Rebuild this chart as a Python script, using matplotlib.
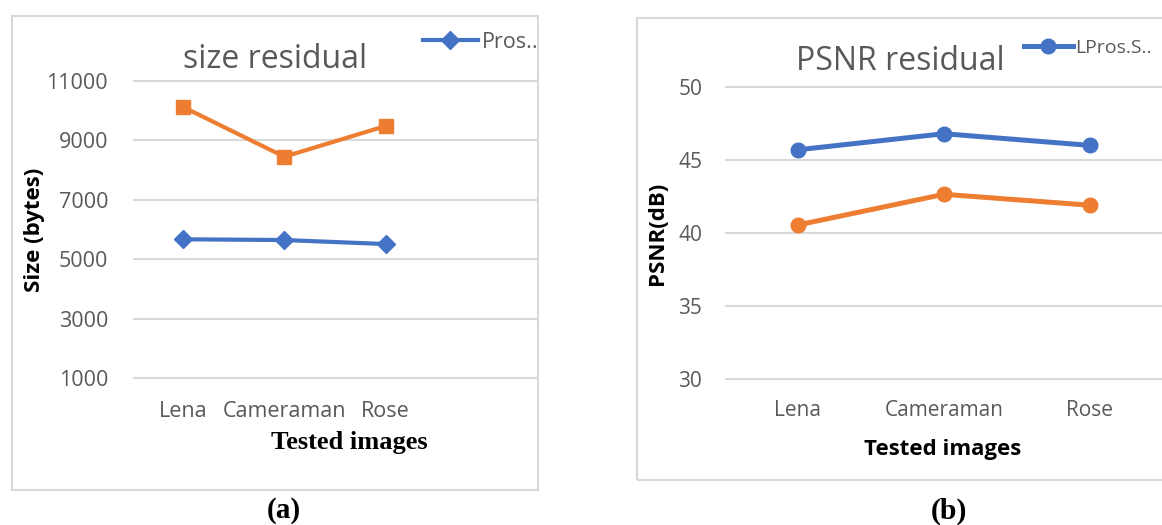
import matplotlib.pyplot as plt
from matplotlib.patches import Rectangle

# ---- data -------------------------------------------------------------
images = ['Lena', 'Cameraman', 'Rose']

size_pros = [5670, 5645, 5510]
size_other = [10130, 8450, 9485]
size_ticks = [1000, 3000, 5000, 7000, 9000, 11000]

psnr_pros = [45.7, 46.8, 46.0]
psnr_other = [40.55, 42.65, 41.9]
psnr_ticks = [30, 35, 40, 45, 50]

BLUE = '#4472C4'
ORANGE = '#ED7D31'
GRID = '#D9D9D9'
TEXT = '#595959'

plt.rcParams['font.family'] = ['Open Sans', 'DejaVu Sans']

W, H = 1162, 525
fig = plt.figure(figsize=(W / 100, H / 100), dpi=100)


def px_box(x0, y0, x1, y1):
    # pixel box (top-left origin) -> figure fraction [l, b, w, h]
    return [x0 / W, 1 - y1 / H, (x1 - x0) / W, (y1 - y0) / H]


def style(ax, ticks, fs):
    ax.set_yticks(ticks)
    ax.yaxis.grid(True, color=GRID, linewidth=1.5)
    ax.set_axisbelow(True)
    for s in ax.spines.values():
        s.set_visible(False)
    ax.tick_params(axis='both', length=0, labelsize=fs, colors=TEXT)


# ---- (a) size residual -------------------------------------------------
ax1 = fig.add_axes(px_box(133, 78, 538, 398))
x = range(len(images))
l1, = ax1.plot(x, size_pros, color=BLUE, lw=3, marker='D', ms=9, label='Pros..')
ax1.plot(x, size_other, color=ORANGE, lw=3, marker='s', ms=10)
ax1.set_xlim(-0.49, 3.5)
ax1.set_ylim(327, 11100)
ax1.set_xticks(list(x))
ax1.set_xticklabels(images)
style(ax1, size_ticks, 15.5)
ax1.tick_params(axis='y', pad=18)
ax1.tick_params(axis='x', pad=2)
ax1.set_ylabel('Size (bytes)', fontsize=16, fontweight='bold', color='black')
ax1.yaxis.set_label_coords(-0.217, 0.525)
fig.text(275 / W, 1 - 60 / H, 'size residual', fontsize=23, color=TEXT, ha='center', va='center')
fig.text(349 / W, 1 - 442 / H, 'Tested images', fontsize=19, fontweight='bold',
         family='Liberation Serif', ha='center', va='center')
fig.text(284 / W, 1 - 510 / H, '(a)', fontsize=21, fontweight='bold',
         family='Liberation Serif', ha='center', va='center')
ax1.legend([l1], ['Pros..'], frameon=False, loc='center left', numpoints=1,
           bbox_to_anchor=(423 / W, 1 - 42 / H), bbox_transform=fig.transFigure,
           fontsize=15.5, handlelength=2.55, handletextpad=0.2, borderpad=0,
           borderaxespad=0, labelcolor=TEXT)

# ---- (b) PSNR residual -------------------------------------------------
ax2 = fig.add_axes(px_box(725, 80, 1163, 395))
l2, = ax2.plot(x, psnr_pros, color=BLUE, lw=3.6, marker='o', ms=10.5, label='LPros.S..')
ax2.plot(x, psnr_other, color=ORANGE, lw=3.6, marker='o', ms=10.5)
ax2.set_xlim(-0.5, 2.5)
ax2.set_ylim(28.9, 50.48)
ax2.set_xticks(list(x))
ax2.set_xticklabels(images)
style(ax2, psnr_ticks, 15)
ax2.tick_params(axis='y', pad=16.5)
ax2.tick_params(axis='x', pad=3.6)
ax2.set_ylabel('PSNR(dB)', fontsize=16, fontweight='bold', color='black')
ax2.yaxis.set_label_coords(-0.130, 0.514)
fig.text(900 / W, 1 - 62 / H, 'PSNR residual', fontsize=23, color=TEXT, ha='center', va='center')
fig.text(943 / W, 1 - 450 / H, 'Tested images', fontsize=16, fontweight='bold',
         ha='center', va='center')
fig.text(949 / W, 1 - 511 / H, '(b)', fontsize=21.5, fontweight='bold',
         family='Liberation Serif', ha='center', va='center')
ax2.legend([l2], ['LPros.S..'], frameon=False, loc='center left', numpoints=1,
           bbox_to_anchor=(1024 / W, 1 - 48 / H), bbox_transform=fig.transFigure,
           fontsize=14, handlelength=2.5, handletextpad=0.15, borderpad=0,
           borderaxespad=0, labelcolor=TEXT)

# ---- chart borders ---------------------------------------------------
for (x0, y0, x1, y1) in [(12, 16, 538, 490), (637, 18, 1175, 480)]:
    l, b, w, h = px_box(x0, y0, x1, y1)
    fig.patches.append(Rectangle((l, b), w, h, transform=fig.transFigure,
                                 fill=False, edgecolor=GRID, lw=1.5))

fig.savefig('out.png', dpi=100)
